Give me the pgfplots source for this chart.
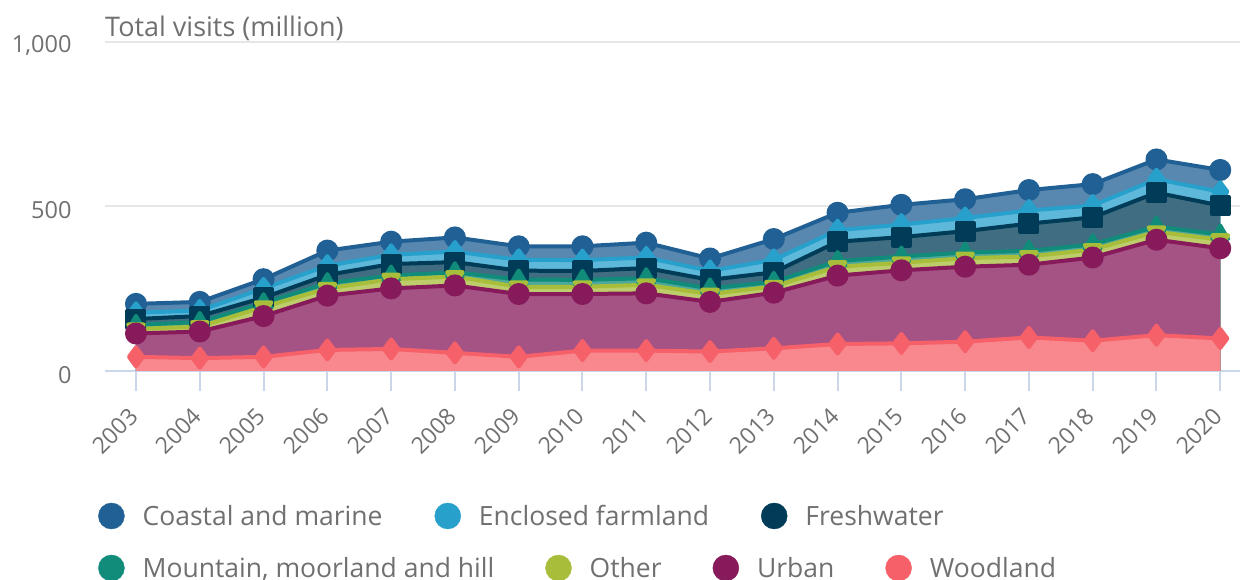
\documentclass[border=0pt]{standalone}
\usepackage{fontspec}
\setmainfont{Open Sans}
\usepackage{pgfplots}
\pgfplotsset{compat=1.18}
\usepackage{pgfplotstable}

\definecolor{coastal}{HTML}{206095}
\definecolor{enclosed}{HTML}{27A0CC}
\definecolor{fresh}{HTML}{003C57}
\definecolor{mountain}{HTML}{118C7B}
\definecolor{other}{HTML}{A8BD3A}
\definecolor{urban}{HTML}{871A5B}
\definecolor{woodland}{HTML}{F66068}
\definecolor{txt}{HTML}{707070}
\definecolor{axisc}{HTML}{CCD6EB}
\definecolor{gridc}{HTML}{E6E6E6}

% cumulative (stacked) totals, million visits
\pgfplotstableread{
x W U O M F E C
0 43 114 128 140 158 177 204
1 39 120 135 149 167 184 210
2 43 167 195 206 223 251 279
3 64 229 251 267 292 320 366
4 67 251 279 290 325 353 393
5 55 260 287 300 331 363 406
6 43 234 256 278 305 338 379
7 62 234 256 277 304 337 379
8 62 236 262 282 313 345 390
9 59 210 234 251 277 304 342
10 69 238 257 271 300 338 401
11 82 290 317 334 393 428 481
12 84 306 329 348 407 445 505
13 89 317 343 360 425 465 522
14 102 323 348 365 448 488 550
15 92 345 369 385 467 503 568
16 109 399 423 439 542 583 643
17 99 373 399 415 503 545 611
}\data

\begin{document}
\begin{tikzpicture}
\path[use as bounding box] (0pt,0pt) rectangle (1241pt,580pt);
\begin{axis}[
  at={(105pt,209pt)}, anchor=south west,
  scale only axis, width=1135pt, height=329pt,
  xmin=-0.486, xmax=17.31, ymin=0, ymax=1000,
  axis x line*=bottom, axis y line*=left,
  x axis line style={draw=axisc, line width=2pt, -},
  y axis line style={draw=none},
  xtick={0,...,17},
  xticklabels={2003,2004,2005,2006,2007,2008,2009,2010,2011,2012,2013,2014,2015,2016,2017,2018,2019,2020},
  ytick={0,500,1000},
  ymajorgrids, grid style={draw=gridc, line width=2pt},
  major tick length=20pt, tick align=outside,
  xtick style={draw=axisc, line width=2pt},
  ytick style={draw=none},
  /pgf/number format/1000 sep={,},
  /pgf/number format/assume math mode=true,
  yticklabel style={font=\fontsize{23.5}{28}\selectfont, text=txt, anchor=east, xshift=-10pt, yshift=-4pt},
  xticklabel shift=19pt,
  xticklabel style={font=\fontsize{23}{27}\selectfont, text=txt, rotate=45, anchor=east},
  legend columns=-1,
  legend style={draw=none, fill=none, inner sep=0pt, at={(-0.00617,-0.4407)}, anchor=west,
    font=\fontsize{26.5}{30}\selectfont, text=txt,
    nodes={inner sep=0pt},
    /tikz/every odd column/.append style={column sep=18pt},
    /tikz/every even column/.append style={column sep=52pt}},
  legend cell align=left,
  every axis plot/.append style={line join=round},
]
% areas (top first, opaque blends of 75% colour on white)
\addplot[forget plot, draw=none, fill=coastal!75!white] table[x=x,y=C]{\data} \closedcycle;
\addplot[forget plot, draw=none, fill=enclosed!75!white] table[x=x,y=E]{\data} \closedcycle;
\addplot[forget plot, draw=none, fill=fresh!75!white] table[x=x,y=F]{\data} \closedcycle;
\addplot[forget plot, draw=none, fill=mountain!75!white] table[x=x,y=M]{\data} \closedcycle;
\addplot[forget plot, draw=none, fill=other!75!white] table[x=x,y=O]{\data} \closedcycle;
\addplot[forget plot, draw=none, fill=urban!75!white] table[x=x,y=U]{\data} \closedcycle;
\addplot[forget plot, draw=none, fill=woodland!75!white] table[x=x,y=W]{\data} \closedcycle;
% lines and markers
\addplot[forget plot, coastal, line width=4pt, mark=*, mark size=9pt, mark options={draw=none, fill=coastal}] table[x=x,y=C]{\data};
\addplot[forget plot, enclosed, line width=4pt, mark=diamond*, mark size=9.5pt, mark options={draw=none, fill=enclosed}] table[x=x,y=E]{\data};
\addplot[forget plot, fresh, line width=4pt, mark=square*, mark size=8.5pt, mark options={draw=none, fill=fresh}] table[x=x,y=F]{\data};
\addplot[forget plot, mountain, line width=4pt, mark=triangle*, mark size=9pt, mark options={draw=none, fill=mountain}] table[x=x,y=M]{\data};
\addplot[forget plot, other, line width=4pt, mark=triangle*, mark size=9pt, mark options={draw=none, fill=other, rotate=180}] table[x=x,y=O]{\data};
\addplot[forget plot, urban, line width=4pt, mark=*, mark size=9pt, mark options={draw=none, fill=urban}] table[x=x,y=U]{\data};
\addplot[forget plot, woodland, line width=4pt, mark=diamond*, mark size=9.5pt, mark options={draw=none, fill=woodland}] table[x=x,y=W]{\data};
% legend, first row
\addlegendimage{legend image code/.code={\fill[coastal] (13pt,0pt) circle (13pt);}}
\addlegendentry{Coastal and marine}
\addlegendimage{legend image code/.code={\fill[enclosed] (13pt,0pt) circle (13pt);}}
\addlegendentry{Enclosed farmland}
\addlegendimage{legend image code/.code={\fill[fresh] (13pt,0pt) circle (13pt);}}
\addlegendentry{Freshwater}
\end{axis}
% second legend row
\begin{axis}[
  at={(105pt,209pt)}, anchor=south west,
  scale only axis, width=1135pt, height=329pt,
  xmin=-0.486, xmax=17.31, ymin=0, ymax=1000,
  hide axis,
  legend columns=-1,
  legend style={draw=none, fill=none, inner sep=0pt, at={(-0.00617,-0.5988)}, anchor=west,
    font=\fontsize{26.5}{30}\selectfont, text=txt,
    nodes={inner sep=0pt},
    /tikz/every odd column/.append style={column sep=18pt},
    /tikz/every even column/.append style={column sep=51pt}},
  legend cell align=left,
]
\addlegendimage{legend image code/.code={\fill[mountain] (13pt,0pt) circle (13pt);}}
\addlegendentry{Mountain, moorland and hill}
\addlegendimage{legend image code/.code={\fill[other] (13pt,0pt) circle (13pt);}}
\addlegendentry{Other}
\addlegendimage{legend image code/.code={\fill[urban] (13pt,0pt) circle (13pt);}}
\addlegendentry{Urban}
\addlegendimage{legend image code/.code={\fill[woodland] (13pt,0pt) circle (13pt);}}
\addlegendentry{Woodland}
\end{axis}
\node[anchor=base west, font=\fontsize{27}{32}\selectfont, text=txt, inner sep=0pt] at (105pt,543pt) {Total visits (million)};
\end{tikzpicture}
\end{document}
